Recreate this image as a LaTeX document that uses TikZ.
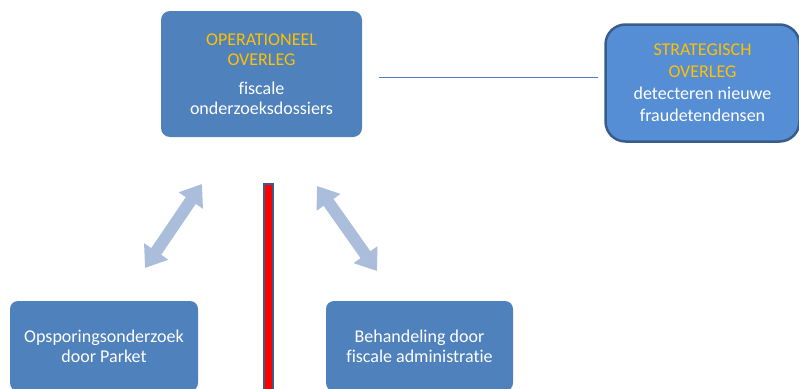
\documentclass[tikz,border=0pt]{standalone}
\usepackage{fontspec}
\setmainfont[Ligatures={NoCommon,NoContextual}]{Carlito}
\usetikzlibrary{arrows.meta}
\definecolor{boxblue}{RGB}{79,129,189}
\definecolor{stratblue}{RGB}{85,142,213}
\definecolor{darkborder}{RGB}{56,93,138}
\definecolor{gold}{RGB}{255,192,0}
\definecolor{arrowblue}{RGB}{170,189,218}
\definecolor{connblue}{RGB}{74,126,187}
\tikzset{
  box/.style={fill=boxblue, draw=none, rounded corners=9pt, text=white, align=center,
    font=\fontsize{18}{20}\selectfont, inner sep=0pt},
  stratbox/.style={fill=stratblue, draw=darkborder, line width=2.5pt, rounded corners=20pt,
    text=white, align=center, font=\fontsize{18}{22}\selectfont, inner sep=0pt},
  dblarrow/.style={line width=12pt, draw=arrowblue,
    {Triangle[width=28pt,length=20pt]}-{Triangle[width=28pt,length=20pt]}},
  conn/.style={draw=connblue, line width=0.7pt},
  barstyle/.style={fill=red, draw=darkborder, line width=2pt, inner sep=0pt}
}
\begin{document}
\begin{tikzpicture}[x=1pt,y=-1pt]
\useasboundingbox (0,0) rectangle (799,388);
\clip (0,0) rectangle (799,388);
\node[box, minimum width=201pt, minimum height=126pt] (top) at (261.5,74)
  {\textcolor{gold}{OPERATIONEEL}\\\textcolor{gold}{OVERLEG}\\[9pt]fiscale\\onderzoeksdossiers};
\node[stratbox, minimum width=194pt, minimum height=117pt] (strat) at (702.5,83)
  {\textcolor{gold}{STRATEGISCH}\\\textcolor{gold}{OVERLEG}\\detecteren nieuwe\\fraudetendensen};
\node[box, rounded corners=8pt, minimum width=188pt, minimum height=90pt] (left) at (104,346)
  {Opsporingsonderzoek\\door Parket};
\node[box, rounded corners=8pt, minimum width=187pt, minimum height=90pt] (right) at (419.5,346)
  {Behandeling door\\fiscale administratie};
\node[barstyle, minimum width=9pt, minimum height=207pt] (bar) at (268.5,287.5) {};
\draw[conn, shorten <=17pt, shorten >=6pt] ([yshift=-3pt]top.east) -- ([yshift=-3pt]top.east -| strat.west);
\coordinate (la) at (145,268);
\coordinate (lb) at (202,184);
\coordinate (ra) at (317,186);
\coordinate (rb) at (377,271);
\draw[dblarrow] (la) -- (lb);
\draw[dblarrow] (ra) -- (rb);
\end{tikzpicture}
\end{document}
